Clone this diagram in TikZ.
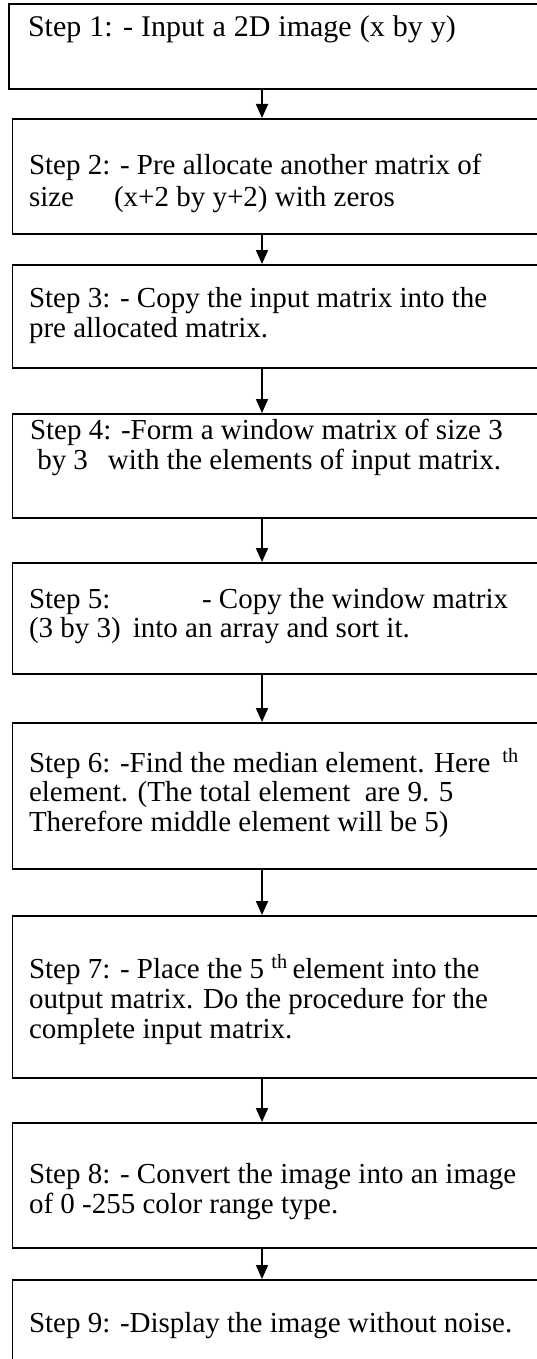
\documentclass[tikz,border=0pt]{standalone}
\usepackage{fontspec}
\setmainfont{Liberation Serif}
\usetikzlibrary{arrows.meta}
\begin{document}
\begin{tikzpicture}[x=1pt,y=-1pt,
  stepbox/.style={draw=black, line width=1.8pt, rectangle, inner sep=0pt,
                  minimum width=700pt, anchor=north west},
  steptext/.style={anchor=base west, inner sep=0pt, outer sep=0pt,
                   font=\fontsize{29}{30}\selectfont},
  flow/.style={line width=1.8pt, -{Triangle[width=12pt,length=14pt]}}]
  \useasboundingbox (0,0) rectangle (537,1359);
  \clip (0,0) rectangle (537,1359);

  % column of the connectors
  \coordinate (ax) at (262,0);

  % boxes (they run past the right edge and the last one past the bottom)
  \node[stepbox, minimum height=84.5pt] (b1) at (8,3.5) {};
  \node[stepbox, minimum height=115pt] (b2) at (11.5,118) {};
  \node[stepbox, minimum height=103pt] (b3) at (11.5,264) {};
  \node[stepbox, minimum height=104pt] (b4) at (11.5,413) {};
  \node[stepbox, minimum height=111pt] (b5) at (11.5,562) {};
  \node[stepbox, minimum height=146pt] (b6) at (11.5,722) {};
  \node[stepbox, minimum height=162pt] (b7) at (11.5,915) {};
  \node[stepbox, minimum height=125pt] (b8) at (11.5,1122) {};
  \node[stepbox, minimum height=140pt] (b9) at (11.5,1279) {};

  % texts
  \node[steptext, font=\fontsize{30}{30}\selectfont] (t1) at (28,37) {\spaceskip=8pt Step 1: - Input a 2D image (x by y)};

  \node[steptext] (t2a) at (29,175) {Step 2: - Pre allocate another matrix of};
  \node[steptext] (t2b) at (29,206) {size\hspace*{40pt}(x+2 by y+2) with zeros};

  \node[steptext] (t3a) at (29,307) {Step 3: - Copy the input matrix into the};
  \node[steptext] (t3b) at (29,337) {pre allocated matrix.};

  \node[steptext] (t4a) at (30,439) {Step 4: -Form a window matrix of size 3};
  \node[steptext] (t4b) at (30,469) {\ by 3\hspace*{20pt}with the elements of input matrix.};

  \node[steptext] (t5a) at (29,608) {Step 5:};
  \node[steptext] (t5b) at (202,608) {- Copy the window matrix};
  \node[steptext] (t5c) at (29,637) {(3 by 3)\hspace*{12pt}into an array and sort it.};

  \node[steptext] (t6a) at (29,772) {Step 6: -Find the median element. Here\hspace*{12pt}\textsuperscript{th}};
  \node[steptext] (t6b) at (29,801) {element. (The total element\ \ are 9. 5};
  \node[steptext] (t6c) at (29,831) {Therefore middle element will be 5)};

  \node[steptext] (t7a) at (29,978) {Step 7: - Place the 5 \textsuperscript{th}\,element into the};
  \node[steptext] (t7b) at (29,1008) {output matrix. Do the procedure for the};
  \node[steptext] (t7c) at (29,1038) {complete input matrix.};

  \node[steptext] (t8a) at (29,1183) {Step 8: - Convert the image into an image};
  \node[steptext] (t8b) at (29,1213) {of 0 -255 color range type.};

  \node[steptext] (t9) at (29,1332) {Step 9: -Display the image without noise.};

  % connectors
  \draw[flow] (b1.south -| ax) -- (b2.north -| ax);
  \draw[flow] (b2.south -| ax) -- (b3.north -| ax);
  \draw[flow] (b3.south -| ax) -- (b4.north -| ax);
  \draw[flow] (b4.south -| ax) -- (b5.north -| ax);
  \draw[flow] (b5.south -| ax) -- (b6.north -| ax);
  \draw[flow] (b6.south -| ax) -- (b7.north -| ax);
  \draw[flow] (b7.south -| ax) -- (b8.north -| ax);
  \draw[flow] (b8.south -| ax) -- (b9.north -| ax);
\end{tikzpicture}
\end{document}
